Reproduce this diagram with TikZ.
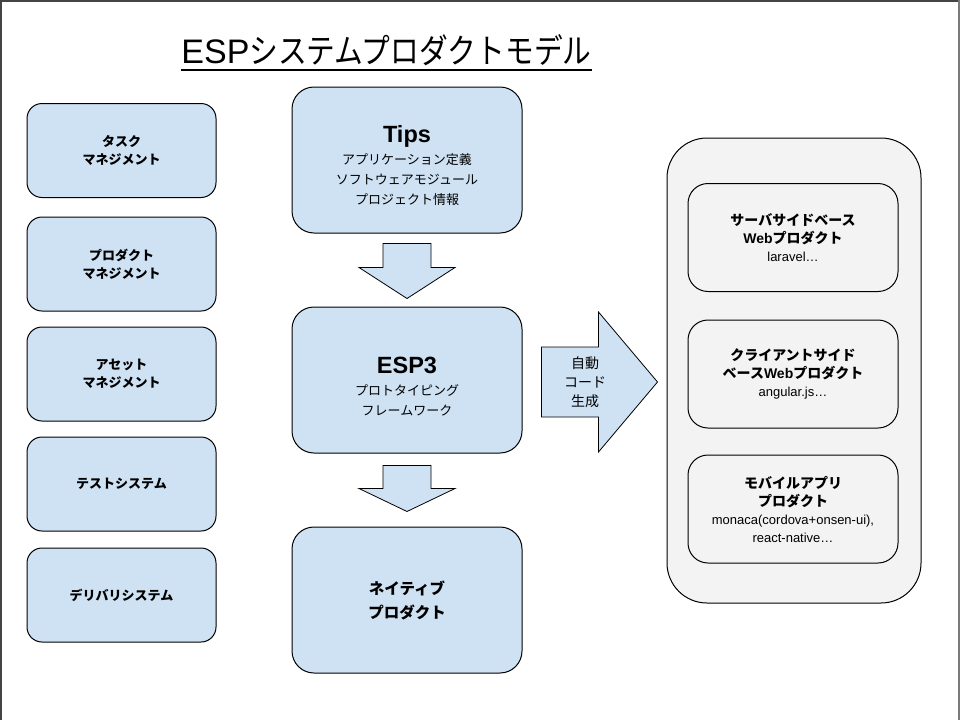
\documentclass[tikz,border=0pt]{standalone}
\usepackage{fontspec}
\setmainfont{Liberation Sans}
\newfontfamily\lat{Liberation Sans}
\newfontfamily\jp{Noto Sans CJK JP}
\newfontfamily\jptitle{Noto Sans CJK JP}[FakeStretch=0.845]
\usepackage{tikz}
\usetikzlibrary{calc}
\definecolor{espblue}{HTML}{CFE2F3}
\definecolor{espgray}{HTML}{F3F3F3}
\definecolor{espframe}{HTML}{444444}
\definecolor{espedge}{HTML}{7A7A7A}

\begin{document}
\begin{tikzpicture}[x=1pt, y=-1pt,
  bluebox/.style={draw=black, line width=1pt, fill=espblue, align=center, inner sep=0pt},
  leftbox/.style={bluebox, rounded corners=15pt, minimum width=189pt, minimum height=94pt,
    font=\jp\bfseries\fontsize{13}{18}\selectfont},
  mainbox/.style={bluebox, rounded corners=22pt, minimum width=230pt, minimum height=146pt,
    font=\jp\fontsize{13}{20}\selectfont},
  prodbox/.style={draw=black, line width=1pt, fill=espgray, rounded corners=20pt,
    minimum width=210pt, minimum height=108pt, align=center, inner sep=0pt,
    font=\jp\bfseries\fontsize{14}{18}\selectfont},
  blockarrow/.style={draw=black, line width=0.8pt, fill=espblue, line join=miter}
  ]
\useasboundingbox (0,0) rectangle (960,720);

% Slide frame
\draw[espframe, line width=2.5pt] (0,1.2) -- (960,1.2);
\draw[espframe, line width=2pt] (1,0) -- (1,720);
\draw[espedge, line width=2pt] (958.5,0) -- (958.5,720);

% Title
\node[font=\jptitle\fontsize{34}{40}\selectfont, inner sep=0pt, anchor=base] (title) at (386.5,63)
  {{\lat ESP}システムプロダクトモデル};
\draw[line width=2pt] ($(title.base west)+(0,7)$) -- ($(title.base east)+(0,7)$);

% Management column
\node[leftbox] (task) at (121.5,150.5) {タスク\\マネジメント};
\node[leftbox] (prodmgmt) at (121.5,264) {プロダクト\\マネジメント};
\node[leftbox] (asset) at (121.5,374) {アセット\\マネジメント};
\node[leftbox] (testsys) at (121.5,484) {テストシステム};
\node[leftbox] (delivery) at (121.5,595) {デリバリシステム};

% Main flow
\node[mainbox] (tips) at (407,160)
  {{\lat\bfseries\fontsize{23.5}{26}\selectfont\rule{0pt}{29pt}Tips}\\[2pt]
   アプリケーション定義\\ソフトウェアモジュール\\プロジェクト情報};
\node[mainbox] (esp) at (407,380)
  {{\lat\bfseries\fontsize{23.5}{26}\selectfont\rule{0pt}{29pt}ESP3}\\[2pt]
   プロトタイピング\\フレームワーク};
\node[mainbox, font=\jp\bfseries\fontsize{15.5}{24}\selectfont] (native) at (407,600)
  {ネイティブ\\プロダクト};

% Block arrows
\coordinate (down1) at ($(tips.south)+(0,10)$);
\draw[blockarrow] (down1) ++(-24,0) -- ++(48,0) -- ++(0,24) -- ++(24,0)
  -- ++(-48,31) -- ++(-48,-31) -- ++(24,0) -- cycle;
\coordinate (down2) at ($(esp.south)+(0,12)$);
\draw[blockarrow] (down2) ++(-24,0) -- ++(48,0) -- ++(0,23) -- ++(24,0)
  -- ++(-48,23) -- ++(-48,-23) -- ++(24,0) -- cycle;
\coordinate (right1) at ($(esp.east)+(19,2)$);
\draw[blockarrow] (right1) ++(0,-35) -- ++(57,0) -- ++(0,-35) -- ++(59,70)
  -- ++(-59,70) -- ++(0,-35) -- ++(-57,0) -- cycle;
\node[font=\jp\fontsize{14}{19}\selectfont, align=center] (autogen) at (585,382)
  {自動\\コード\\生成};

% Generated products
\node[draw=black, line width=1pt, fill=espgray, rounded corners=40pt,
  minimum width=254pt, minimum height=465pt] (webstack) at (794,370.5) {};
\node[prodbox] (server) at (793,237.5)
  {サーバサイドベース\\{\lat Web}プロダクト\\{\lat\mdseries\fontsize{13}{16}\selectfont laravel…}};
\node[prodbox] (client) at (793,374)
  {クライアントサイド\\ベース{\lat Web}プロダクト\\{\lat\mdseries\fontsize{13}{16}\selectfont angular.js…}};
\node[prodbox] (mobile) at (793,509)
  {モバイルアプリ\\プロダクト\\{\lat\mdseries\fontsize{13}{16}\selectfont monaca(cordova+onsen-ui),}\\
   {\lat\mdseries\fontsize{13}{16}\selectfont react-native…}};

\end{tikzpicture}
\end{document}
